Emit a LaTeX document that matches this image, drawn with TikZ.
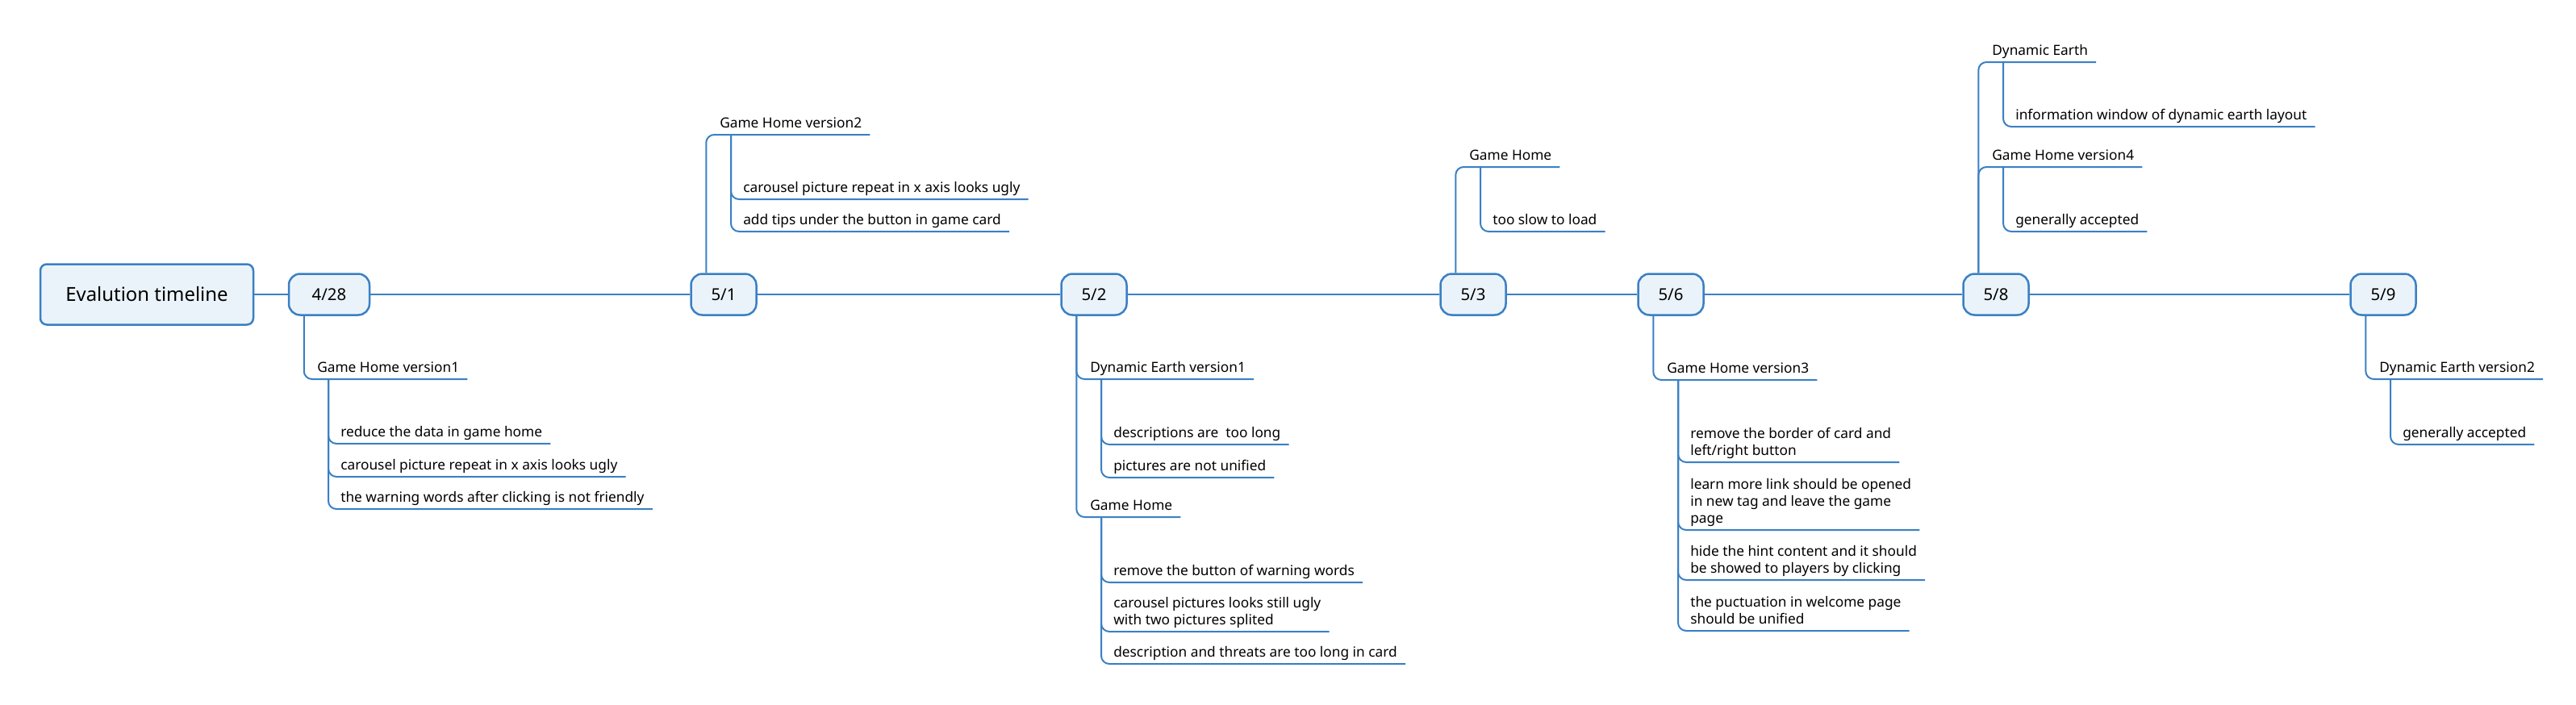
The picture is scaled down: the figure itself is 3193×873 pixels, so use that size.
\documentclass[tikz,border=0pt]{standalone}
\usepackage{fontspec}
\setmainfont{Noto Sans}
\usepackage{tikz}
\definecolor{lineblue}{RGB}{58,128,196}
\definecolor{datefill}{RGB}{235,243,250}
\newdimen\px \px=0.25mm
\newcommand\topicfont{\fontsize{12.3}{14.9}\selectfont}

\begin{document}
\begin{tikzpicture}[x=0.25mm,y=-0.25mm,
		link/.style={lineblue,line width=2\px,rounded corners=10\px},
		datebox/.style={draw=lineblue,fill=datefill,line width=2.5\px,rounded corners=14\px,minimum width=81\px,minimum height=51\px,inner sep=0pt,font=\fontsize{14.5}{17}\selectfont},
		topic/.style={anchor=south west,inner xsep=10\px,inner ysep=8\px,text depth=0pt,align=left,font=\topicfont}]
		\useasboundingbox (0,0) rectangle (3193,873);
		\node[datebox,rounded corners=8\px,minimum width=264\px,minimum height=75\px,font=\fontsize{17}{20}\selectfont] (title) at (182,365) {Evalution timeline};
		\node[datebox,minimum width=100\px] (d428) at (408,365) {4/28};
		\node[datebox] (d51) at (897,365) {5/1};
		\node[datebox] (d52) at (1356,365) {5/2};
		\node[datebox] (d53) at (1826,365) {5/3};
		\node[datebox] (d56) at (2071,365) {5/6};
		\node[datebox] (d58) at (2474,365) {5/8};
		\node[datebox] (d59) at (2954,365) {5/9};
		\draw[link] (title) -- (d428) -- (d51) -- (d52) -- (d53) -- (d56) -- (d58) -- (d59);
		% 4/28
		\node[topic] (gh1) at (383,470) {Game Home version1};
		\node[topic] (gh1a) at (412,550) {reduce the data in game home};
		\node[topic] (gh1b) at (412,591) {carousel picture repeat in x axis looks ugly};
		\node[topic] (gh1c) at (412,631) {the warning words after clicking is not friendly};
		\draw[link] (d428.south west) ++(20,0) |- (gh1.south east);
		\draw[link] (gh1.south west) ++(24,0) |- (gh1a.south east);
		\draw[link] (gh1.south west) ++(24,0) |- (gh1b.south east);
		\draw[link] (gh1.south west) ++(24,0) |- (gh1c.south east);
		% 5/1
		\node[topic] (gh2) at (882,167) {Game Home version2};
		\node[topic] (gh2a) at (911,247) {carousel picture repeat in x axis looks ugly};
		\node[topic] (gh2b) at (911,287) {add tips under the button in game card};
		\draw[link] (d51.north west) ++(20,0) |- (gh2.south east);
		\draw[link] (gh2.south west) ++(24,0) |- (gh2a.south east);
		\draw[link] (gh2.south west) ++(24,0) |- (gh2b.south east);
		% 5/2
		\node[topic] (de1) at (1341,470) {Dynamic Earth version1};
		\node[topic] (de1a) at (1370,551) {descriptions are\ \ too long};
		\node[topic] (de1b) at (1370,592) {pictures are not unified};
		\node[topic] (gh) at (1341,641) {Game Home};
		\node[topic] (gha) at (1370,722) {remove the button of warning words};
		\node[topic] (ghb) at (1370,783) {carousel pictures looks still ugly\\with two pictures splited};
		\node[topic] (ghc) at (1370,823) {description and threats are too long in card};
		\draw[link] (d52.south west) ++(20,0) |- (de1.south east);
		\draw[link] (d52.south west) ++(20,0) |- (gh.south east);
		\draw[link] (de1.south west) ++(24,0) |- (de1a.south east);
		\draw[link] (de1.south west) ++(24,0) |- (de1b.south east);
		\draw[link] (gh.south west) ++(24,0) |- (gha.south east);
		\draw[link] (gh.south west) ++(24,0) |- (ghb.south east);
		\draw[link] (gh.south west) ++(24,0) |- (ghc.south east);
		% 5/3
		\node[topic] (ghs) at (1811,207) {Game Home};
		\node[topic] (ghsa) at (1840,287) {too slow to load};
		\draw[link] (d53.north west) ++(20,0) |- (ghs.south east);
		\draw[link] (ghs.south west) ++(24,0) |- (ghsa.south east);
		% 5/6
		\node[topic] (gh3) at (2056,471) {Game Home version3};
		\node[topic] (gh3a) at (2085,573) {remove the border of card and\\left/right button};
		\node[topic] (gh3b) at (2085,657) {learn more link should be opened\\in new tag and leave the game\\page};
		\node[topic] (gh3c) at (2085,719) {hide the hint content and it should\\be showed to players by clicking};
		\node[topic] (gh3d) at (2085,782) {the puctuation in welcome page\\should be unified};
		\draw[link] (d56.south west) ++(20,0) |- (gh3.south east);
		\draw[link] (gh3.south west) ++(24,0) |- (gh3a.south east);
		\draw[link] (gh3.south west) ++(24,0) |- (gh3b.south east);
		\draw[link] (gh3.south west) ++(24,0) |- (gh3c.south east);
		\draw[link] (gh3.south west) ++(24,0) |- (gh3d.south east);
		% 5/8
		\node[topic] (de) at (2459,77) {Dynamic Earth};
		\node[topic] (dea) at (2488,157) {information window of dynamic earth layout};
		\node[topic] (gh4) at (2459,207) {Game Home version4};
		\node[topic] (gh4a) at (2488,287) {generally accepted};
		\draw[link] (d58.north west) ++(20,0) |- (de.south east);
		\draw[link] (d58.north west) ++(20,0) |- (gh4.south east);
		\draw[link] (de.south west) ++(24,0) |- (dea.south east);
		\draw[link] (gh4.south west) ++(24,0) |- (gh4a.south east);
		% 5/9
		\node[topic] (de2) at (2939,470) {Dynamic Earth version2};
		\node[topic] (de2a) at (2968,551) {generally accepted};
		\draw[link] (d59.south west) ++(20,0) |- (de2.south east);
		\draw[link] (de2.south west) ++(24,0) |- (de2a.south east);
	\end{tikzpicture}
\end{document}
